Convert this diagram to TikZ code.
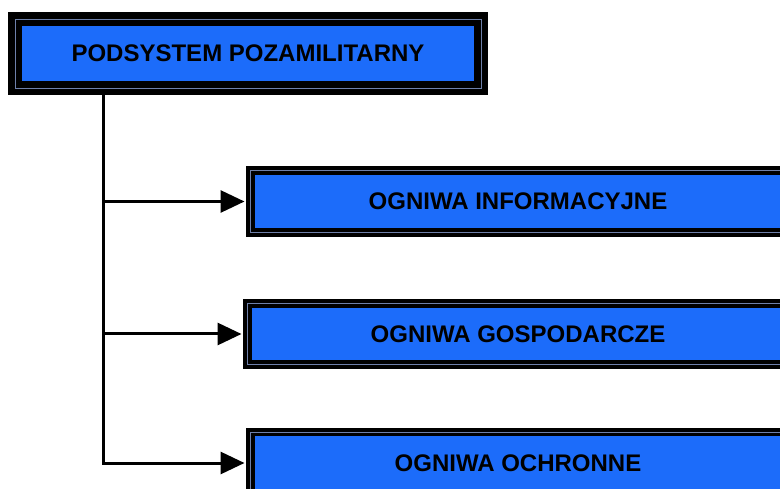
\documentclass[tikz,border=0pt]{standalone}
\usepackage{fontspec}
\setmainfont{Liberation Sans}
\usetikzlibrary{arrows.meta}
\definecolor{boxblue}{RGB}{28,108,250}
\definecolor{rimgrey}{RGB}{110,128,170}
\begin{document}
\begin{tikzpicture}
        [x=1pt, y=1pt,
        unit/.style={rectangle, fill=boxblue, draw=black, double=rimgrey, double distance=0.8pt,
            line width=4pt, inner sep=0pt, font=\fontsize{24}{28}\selectfont\bfseries},
        head/.style={unit, line width=6.5pt},
        link/.style={line width=3pt, black, -{Triangle[length=24pt, width=22pt]}, shorten >=4pt}]

        \useasboundingbox (0,0) rectangle (780,-489);

        \node[head, minimum width=466pt, minimum height=69pt] (sys) at (248,-53.5) {PODSYSTEM POZAMILITARNY};
        \node[unit, minimum width=535pt, minimum height=62pt] (info) at (518,-201.5) {OGNIWA INFORMACYJNE};
        \node[unit, minimum width=541pt, minimum height=61pt] (econ) at (518,-334) {OGNIWA GOSPODARCZE};
        \node[unit, minimum width=535pt, minimum height=62pt] (guard) at (518,-463) {OGNIWA OCHRONNE};

        % trunk line below the top box
        \coordinate (split) at (103,0);

        % branches to the three units
        \draw[link] (sys.south -| split) |- (info.west);
        \draw[link] (sys.south -| split) |- (econ.west);
        \draw[link] (sys.south -| split) |- (guard.west);

    \end{tikzpicture}
\end{document}
